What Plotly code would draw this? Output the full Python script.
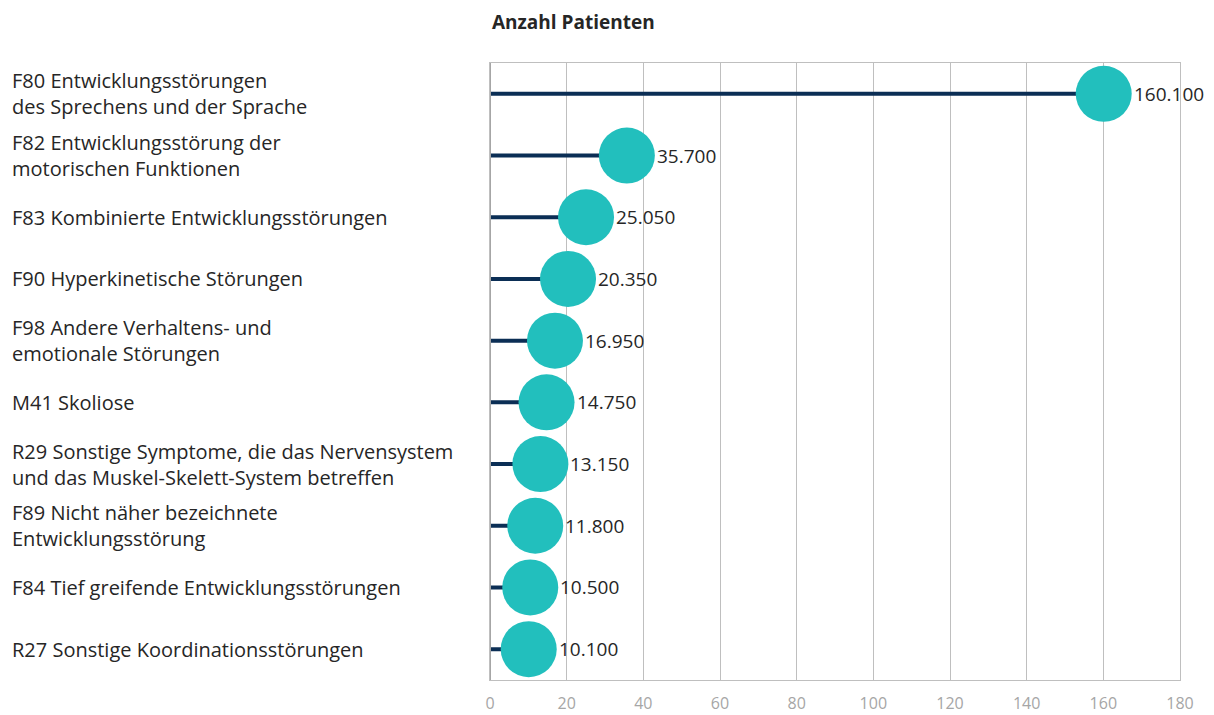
import plotly.graph_objects as go

categories = [
    "F80 Entwicklungsstörungen<br>des Sprechens und der Sprache",
    "F82 Entwicklungsstörung der<br>motorischen Funktionen",
    "F83 Kombinierte Entwicklungsstörungen",
    "F90 Hyperkinetische Störungen",
    "F98 Andere Verhaltens- und<br>emotionale Störungen",
    "M41 Skoliose",
    "R29 Sonstige Symptome, die das Nervensystem<br>und das Muskel-Skelett-System betreffen",
    "F89 Nicht näher bezeichnete<br>Entwicklungsstörung",
    "F84 Tief greifende Entwicklungsstörungen",
    "R27 Sonstige Koordinationsstörungen",
]
values = [160.1, 35.7, 25.05, 20.35, 16.95, 14.75, 13.15, 11.8, 10.5, 10.1]
value_labels = ["160.100", "35.700", "25.050", "20.350", "16.950",
                "14.750", "13.150", "11.800", "10.500", "10.100"]
x_ticks = [0, 20, 40, 60, 80, 100, 120, 140, 160, 180]
title_text = "Anzahl Patienten"

FONT = "Open Sans"
OFF = 8  # default page body margin
W, H = 1214 - OFF, 715 - OFF
L, T = 490 - OFF, 63 - OFF
R = W - (1180 - OFF)
B = H - (680 - OFF)
plot_w = W - L - R
plot_h = H - T - B
MSIZE = 56

idx = list(range(len(categories)))

lx, ly = [], []
for i, v in zip(idx, values):
    lx += [0, v, None]
    ly += [i, i, None]

fig = go.Figure()
fig.add_trace(go.Scatter(
    x=lx, y=ly, mode="lines",
    line=dict(color="#0B2E55", width=4),
    hoverinfo="skip", showlegend=False,
))
fig.add_trace(go.Scatter(
    x=values, y=idx, mode="markers",
    marker=dict(size=MSIZE, color="#22BFBD", line=dict(width=0)),
    cliponaxis=False, showlegend=False,
))

annotations = []
for i, c in zip(idx, categories):
    annotations.append(dict(
        x=(10 - 490) / plot_w, xref="paper", y=i, yref="y",
        text=c, showarrow=False, xanchor="left", align="left",
        font=dict(family=FONT, size=20, color="#262626"),
    ))
for i, v, t in zip(idx, values, value_labels):
    annotations.append(dict(
        x=v, xref="x", y=i, yref="y", text=t, showarrow=False,
        xanchor="left", xshift=MSIZE / 2,
        font=dict(family=FONT, size=19, color="#262626"),
    ))
annotations.append(dict(
    x=0.0, xref="paper", y=(H - (22 - OFF) - B) / plot_h, yref="paper",
    text="<b>" + title_text + "</b>", showarrow=False, xanchor="left",
    yanchor="middle", font=dict(family=FONT, size=19, color="#262626"),
))

fig.update_layout(
    width=W, height=H,
    margin=dict(l=L, r=R, t=T, b=B, autoexpand=False),
    plot_bgcolor="white", paper_bgcolor="white",
    annotations=annotations,
    xaxis=dict(
        range=[0, 180], tickvals=x_ticks, ticktext=[str(t) for t in x_ticks],
        showgrid=True, gridcolor="#BFBFBF", gridwidth=1,
        zeroline=False, showline=True, linecolor="#BFBFBF", linewidth=1,
        mirror=True, ticks="", ticklabelstandoff=9, automargin=False,
        tickfont=dict(family=FONT, size=16, color="#A6A6A6"),
    ),
    yaxis=dict(
        range=[9.5, -0.5], showticklabels=False, showgrid=False,
        zeroline=False, showline=True, linecolor="#BFBFBF", linewidth=1,
        mirror=True, ticks="", automargin=False,
    ),
    shapes=[dict(type="line", xref="x", yref="paper", x0=0, x1=0, y0=0, y1=1,
                 line=dict(color="#A6A6A6", width=2))],
)

fig.write_html("out.html")
